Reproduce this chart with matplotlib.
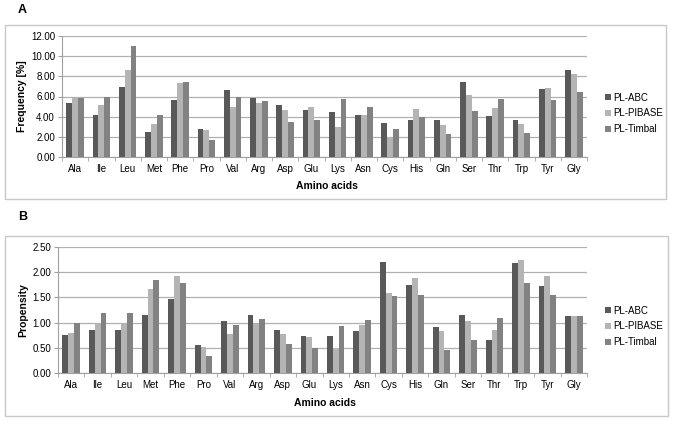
import numpy as np
import matplotlib
matplotlib.use("Agg")
import matplotlib.pyplot as plt
from matplotlib.patches import Rectangle

plt.rcParams['font.family'] = ['Liberation Sans', 'DejaVu Sans']

amino = ['Ala', 'Ile', 'Leu', 'Met', 'Phe', 'Pro', 'Val', 'Arg', 'Asp', 'Glu',
         'Lys', 'Asn', 'Cys', 'His', 'Gln', 'Ser', 'Thr', 'Trp', 'Tyr', 'Gly']
series = ['PL-ABC', 'PL-PIBASE', 'PL-Timbal']

freq_abc = [5.4, 4.2, 6.95, 2.45, 5.7, 2.75, 6.6, 5.9, 5.2, 4.7,
            4.45, 4.2, 3.34, 3.7, 3.7, 7.44, 4.03, 3.64, 6.71, 8.6]
freq_pibase = [6.0, 5.2, 8.6, 3.3, 7.35, 2.7, 5.0, 5.35, 4.65, 4.95,
               3.0, 4.13, 1.98, 4.79, 3.14, 6.12, 4.89, 3.31, 6.84, 8.2]
freq_timbal = [5.85, 6.0, 11.05, 4.2, 7.45, 1.65, 6.0, 5.6, 3.45, 3.7,
               5.72, 4.96, 2.81, 4.0, 2.31, 4.53, 5.79, 2.38, 5.62, 6.45]

prop_abc = [0.75, 0.85, 0.85, 1.16, 1.46, 0.56, 1.03, 1.15, 0.85, 0.73,
            0.73, 0.83, 2.2, 1.75, 0.91, 1.15, 0.66, 2.18, 1.73, 1.14]
prop_pibase = [0.79, 1.0, 0.99, 1.66, 1.92, 0.51, 0.77, 1.0, 0.77, 0.72,
               0.5, 0.95, 1.58, 1.89, 0.83, 1.03, 0.85, 2.25, 1.93, 1.13]
prop_timbal = [1.0, 1.19, 1.19, 1.85, 1.78, 0.34, 0.96, 1.07, 0.58, 0.5,
               0.93, 1.05, 1.52, 1.54, 0.46, 0.66, 1.1, 1.78, 1.54, 1.14]

colors = ['#595959', '#b4b4b4', '#828282']

W, H = 673, 421
fig = plt.figure(figsize=(W / 100, H / 100), dpi=100)

def px_axes(x0, y0, x1, y1):
    # pixel box (top-left origin) -> figure axes
    return fig.add_axes([x0 / W, 1 - y1 / H, (x1 - x0) / W, (y1 - y0) / H])

def frame(x0, y0, x1, y1):
    fig.patches.append(Rectangle((x0 / W, 1 - y1 / H), (x1 - x0) / W, (y1 - y0) / H,
                                 transform=fig.transFigure, fill=False,
                                 edgecolor='#c8c8c8', linewidth=1.0))

def panel(ax, data, ymax, step, ylabel, legend_y):
    x = np.arange(len(amino))
    w = 0.22
    for i, (vals, name) in enumerate(zip(data, series)):
        ax.bar(x + (i - 1) * w, vals, w, color=colors[i], label=name, zorder=3)
    ax.set_xlim(-0.5, len(amino) - 0.5)
    ax.set_ylim(0, ymax)
    ax.set_yticks(np.arange(0, ymax + step / 2, step))
    ax.yaxis.set_major_formatter(matplotlib.ticker.FormatStrFormatter('%.2f'))
    ax.set_xticks(x)
    ax.set_xticklabels(amino)
    ax.set_xticks(np.arange(-0.5, len(amino)), minor=True)
    ax.tick_params(axis='x', which='major', length=0, pad=5, labelsize=7)
    ax.tick_params(axis='x', which='minor', length=3, color='#a0a0a0')
    ax.tick_params(axis='y', length=3, color='#a0a0a0', labelsize=7, pad=2)
    ax.grid(axis='y', color='#b0b0b0', linewidth=0.9, zorder=0)
    for s in ['top', 'right']:
        ax.spines[s].set_visible(False)
    ax.spines['left'].set_color('#a0a0a0')
    ax.spines['bottom'].set_color('#a0a0a0')
    ax.set_ylabel(ylabel, fontsize=7.5, fontweight='bold', labelpad=3)
    ax.set_xlabel('Amino acids', fontsize=7.5, fontweight='bold', labelpad=4)
    ax.xaxis.set_label_coords(0.505, -0.2)
    ax.legend(loc='center left', bbox_to_anchor=(1.018, legend_y), frameon=False,
              fontsize=7, handlelength=0.6, handleheight=0.6, handletextpad=0.2,
              labelspacing=0.6)

frame(5, 25, 666, 199)
axA = px_axes(62, 36, 587, 157)
panel(axA, [freq_abc, freq_pibase, freq_timbal], 12, 2, 'Frequency [%]', 0.36)
fig.text(18 / W, 1 - 10 / H, 'A', fontsize=9, fontweight='bold', va='center')

frame(5, 236, 668, 416)
axB = px_axes(58, 247, 587, 373)
panel(axB, [prop_abc, prop_pibase, prop_timbal], 2.5, 0.5, 'Propensity', 0.37)
fig.text(18 / W, 1 - 217 / H, 'B', fontsize=9, fontweight='bold', va='center')

fig.savefig('out.png', dpi=100)
